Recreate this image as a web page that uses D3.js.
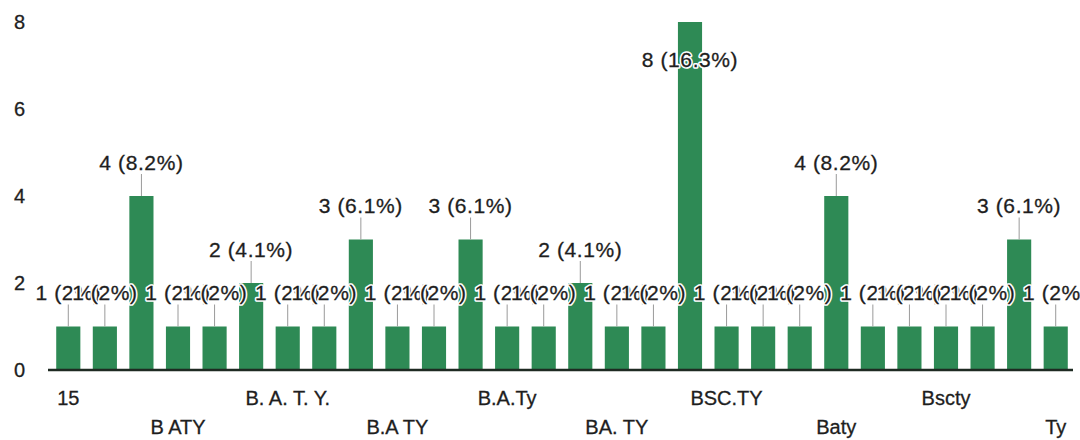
<!DOCTYPE html>
<html>
<head>
<meta charset="utf-8">
<script src="https://cdn.jsdelivr.net/npm/d3@7"></script>
<style>
  html, body { margin: 0; padding: 0; background: #fff; }
  svg { display: block; font-family: "Liberation Sans", Arial, sans-serif; }
</style>
</head>
<body>
<svg id="chart" width="1080" height="440"></svg>
<script>
// Response counts, one per answer, in the order they are listed on the axis
const values = [1, 1, 4, 1, 1, 2, 1, 1, 3, 1, 1, 3, 1, 1, 2, 1, 1, 8, 1, 1, 1, 4, 1, 1, 1, 1, 3, 1];
// Axis names printed under every third answer
const tickLabels = ["15", "B ATY", "B. A. T. Y.", "B.A TY", "B.A.Ty", "BA. TY", "BSC.TY", "Baty", "Bscty", "Ty"];
const yTicks = [0, 2, 4, 6, 8];

const width = 1080, height = 440;
const margin = { left: 50, right: 6, top: 22, bottom: 70 };
const barColor = "#2e8a55";
const textColor = "#1e1e1e";

const svg = d3.select("#chart");
const total = d3.sum(values);
const idx = values.map((_, i) => i);

const x = d3.scaleBand()
  .domain(idx)
  .range([margin.left, width - margin.right])
  .paddingInner(0.34)
  .paddingOuter(0.17);

const y = d3.scaleLinear()
  .domain([0, 8])
  .range([height - margin.bottom, margin.top]);

// y-axis numbers, no line or ticks
svg.append("g")
  .selectAll("text")
  .data(yTicks)
  .join("text")
  .attr("x", 25)
  .attr("y", d => y(d))
  .attr("dy", "0.36em")
  .attr("text-anchor", "end")
  .attr("font-size", 20)
  .attr("fill", textColor)
  .attr("stroke", textColor)
  .attr("stroke-width", 0.3)
  .text(d => d);

// bars
svg.append("g")
  .selectAll("rect")
  .data(values)
  .join("rect")
  .attr("x", (d, i) => x(i))
  .attr("y", d => y(d))
  .attr("width", x.bandwidth())
  .attr("height", d => y(0) - y(d))
  .attr("fill", barColor);

// baseline
svg.append("line")
  .attr("x1", margin.left - 2)
  .attr("x2", width - margin.right - 1)
  .attr("y1", y(0))
  .attr("y2", y(0))
  .attr("stroke", "#1e2a22")
  .attr("stroke-width", 2.5);

// category names, alternating between two rows
const xAxis = svg.append("g");
tickLabels.forEach((name, k) => {
  const i = k * 3;
  xAxis.append("text")
    .attr("x", x(i) + x.bandwidth() / 2)
    .attr("y", y(0) + (k % 2 === 0 ? 28 : 57))
    .attr("dy", "0.36em")
    .attr("text-anchor", "middle")
    .attr("font-size", 20)
    .attr("fill", textColor)
    .attr("stroke", textColor)
    .attr("stroke-width", 0.3)
    .text(name);
});

// value labels "n (p%)" with leader lines
const fmtPct = v => {
  const p = Math.round(v / total * 1000) / 10;
  return (Number.isInteger(p) ? p.toFixed(0) : p.toFixed(1)) + "%";
};
const labelOffset = 34;   // label centre above bar top
const labelTop = 59;      // highest centre allowed for a label

const lbl = svg.append("g");
values.forEach((v, i) => {
  const cx = x(i) + x.bandwidth() / 2;
  const cy = y(v) - labelOffset;
  if (cy >= labelTop) {
    lbl.append("line")
      .attr("x1", cx).attr("x2", cx)
      .attr("y1", cy + 12).attr("y2", y(v))
      .attr("stroke", "#9a9a9a")
      .attr("stroke-width", 1);
  }
});
values.forEach((v, i) => {
  const cx = x(i) + x.bandwidth() / 2;
  const cy = Math.max(y(v) - labelOffset, labelTop);
  const g = lbl.append("g");
  const txt = `${v} (${fmtPct(v)})`;
  // white halo first, then the dark glyphs on top
  g.append("text")
    .attr("x", cx).attr("y", cy).attr("dy", "0.36em")
    .attr("text-anchor", "middle")
    .attr("font-size", 21)
    .attr("letter-spacing", 0.6)
    .attr("fill", "#fff")
    .attr("stroke", "#fff")
    .attr("stroke-width", 3.5)
    .attr("stroke-linejoin", "round")
    .text(txt);
  g.append("text")
    .attr("x", cx).attr("y", cy).attr("dy", "0.36em")
    .attr("text-anchor", "middle")
    .attr("font-size", 21)
    .attr("letter-spacing", 0.6)
    .attr("fill", textColor)
    .attr("stroke", textColor)
    .attr("stroke-width", 0.3)
    .text(txt);
});
</script>
</body>
</html>
